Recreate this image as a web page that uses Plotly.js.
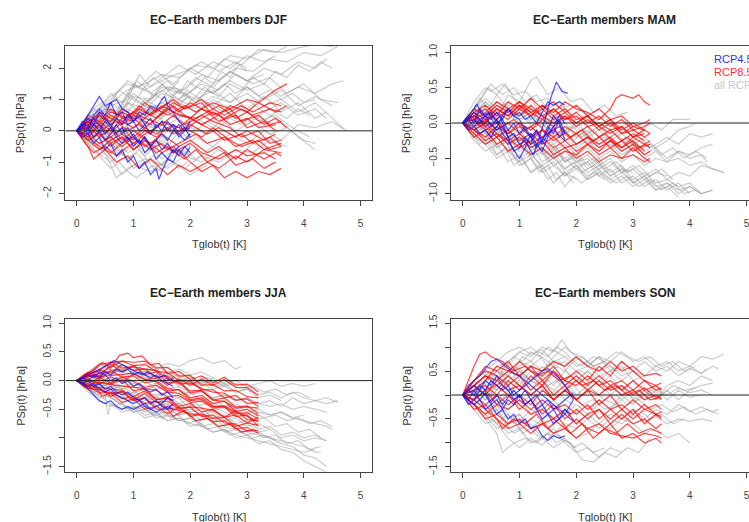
<!DOCTYPE html>
<html>
<head>
<meta charset="utf-8">
<script src="https://cdn.plot.ly/plotly-3.0.1.min.js"></script>
<style>
html,body{margin:0;padding:0;overflow:hidden;background:#fff;}
#chart{width:780px;height:522px;}
</style>
</head>
<body>
<div id="chart"></div>
<script>
// Each member: flattened pairs [Tglob, PSp, Tglob, PSp, ...]
const seasons = ["DJF", "MAM", "JJA", "SON"];
const xTicks = [0, 1, 2, 3, 4, 5];
const legendLabels = ["RCP4.5", "RCP8.5", "all RCPs"];

// ---------------- DJF ----------------
const djfAll = [
[0,0,.3,.4,.6,.9,.9,1.3,1.2,1.5,1.5,1.8,1.8,1.7,2.1,2.1,2.4,2,2.7,2.4,3,2.3,3.3,2.6,3.6,2.5,3.9,2.65,4.2,2.75,4.5,2.7,4.7,2.8],
[0,0,.25,.3,.5,.7,.8,.6,1,1.1,1.3,1,1.6,1.4,1.9,1.3,2.2,1.8,2.5,1.6,2.8,2,3.1,1.9,3.4,2.3,3.7,2.2,4,2.5,4.3,2.4,4.6,2.7],
[0,0,.3,.5,.6,.3,.9,.9,1.2,.7,1.5,1.2,1.8,1,2.1,1.4,2.4,1.2,2.7,1.6,3,1.3,3.3,1.5,3.6,1.1,3.9,1.4,4.2,1.2,4.5,1.5,4.7,1.6],
[0,0,.3,-.2,.6,.4,.9,.2,1.2,.8,1.5,.5,1.8,1,2.1,.7,2.4,1.1,2.7,.9,3,1.2,3.3,.8,3.6,1,3.9,.6,4.2,.9,4.5,.4,4.75,0],
[0,0,.2,.3,.5,.1,.8,.6,1.1,.3,1.4,.8,1.7,.5,2,.4,2.3,.9,2.6,.6,2.9,.8,3.2,.3,3.5,.5,3.8,.1,4.1,-.2],
[0,0,.3,.2,.6,-.3,.9,.1,1.2,-.2,1.5,.3,1.8,0,2.1,.4,2.4,.1,2.7,.5,3,.2,3.3,.6,3.6,.3,3.9,-.2,4.2,-.6],
[0,0,.3,-.4,.6,-.9,.8,-1.4,1,-1.1,1.3,-1.3,1.6,-.9,1.9,-1.2,2.2,-.8,2.5,-1,2.8,-.6,3.1,-.7,3.4,-.3,3.7,-.5],
[0,0,.25,-.3,.5,-.7,.7,-1.5,.9,-1.2,1.2,-.9,1.5,-1.1,1.8,-.6,2,-.8],
[0,0,.3,.6,.6,1,.9,1.6,1.1,1.4,1.4,1.9,1.7,1.5,2,2,2.3,1.7,2.6,2.3,2.9,2.1,3.2,2.6,3.5,2.5,3.7,2.7],
[0,0,.3,.4,.6,1.2,.8,.9,1,1.5,1.3,1.2,1.6,1.6,1.9,1.1,2.2,1.5,2.5,1.3,2.8,1.8,3.1,1.5,3.4,1.7,3.7,1.2,4,1.5,4.3,1,4.6,.9],
[0,0,.3,.1,.6,.5,.9,.2,1.2,.6,1.5,.9,1.8,.6,2.1,1.1,2.4,.8,2.7,1.2,3,.7,3.3,1.1,3.6,.6,3.9,.9,4.2,.4,4.4,.6],
[0,0,.3,-.5,.6,-.2,.9,-.7,1.2,-.4,1.5,-.9,1.8,-.5,2.1,-.9,2.4,-.5,2.7,-.8],
[0,0,.2,.4,.5,.8,.7,.5,1,1.2,1.2,.9,1.5,1.3,1.8,.9,2,1.1],
[0,0,.2,-.2,.5,.3,.8,-.1,1,.5,1.3,.1,1.6,.6,1.9,.2,2,.3],
[0,0,.3,.3,.6,.8,.9,1,1.1,1.8,1.3,1.4,1.6,1.7,1.9,1.9,2.2,2.2,2.5,1.9,2.8,2.2,3,2],
[0,0,.3,-.3,.6,-.6,.9,-.2,1.2,-.8,1.5,-.3,1.8,-.7,2.1,-.2,2.4,-.5,2.7,-.1,3,-.4,3.3,0,3.6,-.3,3.9,.2,4.2,.1,4.5,.3,4.7,.05],
[0,0,.3,.5,.6,.3,.9,1.1,1.2,.8,1.5,1.4,1.8,1.2,2.1,1.7,2.4,1.4,2.7,1.9,3,1.6,3.3,2,3.6,1.8,3.9,2.2,4.2,2,4.4,2.3],
[0,0,.3,.2,.6,-.4,.9,-.9,1.1,-.6,1.4,-1.3,1.7,-1,2,-1.4,2.3,-1.1],
[0,0,.3,.3,.6,.6,.9,.4,1.2,1,1.5,.7,1.8,1.3,2.1,1,2.4,1.3,2.7,.9,3,1.4,3.3,1,3.6,1.3,3.9,.8,4.2,1.1,4.5,.8],
[0,0,.3,-.1,.6,.3,.9,.7,1.2,.4,1.5,.9,1.8,1.3,2.1,.9,2.4,1.5,2.7,1.9,3,1.6,3.3,1.8],
[0,0,.3,.4,.5,.2,.8,.7,1,.4,1.3,.6,1.6,.2,1.9,.5,2.2,.2,2.5,.4,2.8,0,3.1,.3,3.4,-.1,3.7,.1,4,-.3,4.2,-.4],
[0,0,.3,-.6,.6,-1,.8,-.7,1,-1.2,1.3,-.9,1.6,-1.2,1.9,-.8,2.2,-1,2.5,-.6,2.8,-.9,3.1,-.4,3.4,-.6],
[0,0,.3,.7,.6,1.1,.9,1.5,1.2,1.3,1.5,1.7,1.8,2.1,2.1,1.8,2.4,2.2,2.7,2,3,2.4,3.3,2.2,3.5,2.4],
[0,0,.3,.1,.6,.6,.9,.3,1.2,.7,1.5,.4,1.8,.9,2.1,.6,2.4,1,2.7,.7,3,1,3.3,.6,3.6,.9,3.9,.5,4.2,.7,4.4,.4],
[0,0,.15,.2,.3,.1,.45,.5,.6,.4,.75,.8,.9,.6,1.05,1,1.2,.8,1.35,1.2,1.5,1,1.65,1.4,1.8,1.2,1.95,1.6,2.1,1.4,2.25,1.7,2.4,1.5,2.55,1.9,2.7,1.7,2.85,2.1,3,1.9],
[0,0,.15,-.2,.3,0,.45,-.4,.6,-.2,.75,-.6,.9,-.9,1.05,-.7,1.2,-1,1.35,-.8,1.5,-1.1,1.65,-.9,1.8,-1.2,1.95,-1],
[0,0,.15,.3,.3,.1,.45,.6,.6,.9,.75,.7,.9,1.2,1.05,1,1.2,1.4,1.35,1.1,1.5,1.5,1.65,1.2,1.8,1,1.95,1.3,2.1,1.1,2.25,1.4,2.4,1.2,2.6,1.5,2.8,1.2,3,1.4,3.2,1.1,3.4,1.3,3.6,1,3.8,1.2,4,.9,4.2,1],
[0,0,.15,.1,.3,-.2,.45,-.5,.6,-.3,.75,-.8,.9,-.6,1.05,-.4,1.2,-.7,1.35,-.5,1.5,-.2,1.65,-.4,1.8,0,1.95,-.2,2.1,.1,2.25,-.1],
[0,0,.15,.2,.3,.5,.45,.3,.6,.7,.75,.5,.9,.9,1.05,.7,1.2,.5,1.35,.8,1.5,.6,1.65,1,1.8,.8,1.95,1.1,2.1,.9,2.3,1.3,2.5,1.1,2.7,1.5,2.9,1.3,3.1,1.7,3.3,1.5,3.5,1.9,3.7,1.7,3.9,2.1,4.1,1.9,4.3,2.2,4.5,2],
[0,0,.15,-.1,.3,.2,.45,0,.6,-.3,.75,-.1,.9,.2,1.05,0,1.2,.3,1.35,.1,1.5,-.2,1.65,.1,1.8,-.1,1.95,.2,2.1,0,2.3,.3,2.5,.1,2.7,.4,2.9,.2,3.1,.5,3.3,.3,3.5,.6,3.7,.4,3.9,.7,4.1,.5],
[0,0,.15,-.3,.3,-.6,.45,-.9,.6,-1.2,.75,-1,.9,-1.3,1.05,-1.5,1.2,-1.3,1.35,-1.1,1.5,-1.3],
[0,0,.15,.4,.3,.7,.45,.5,.6,.9,.75,1.3,.9,1.1,1.05,1.6,1.2,1.4,1.35,1.7,1.5,1.5,1.65,1.3,1.8,1.6]
];
const djfRcp85 = [
[0,0,.2,.3,.4,.1,.6,.5,.8,.3,1,.6,1.2,.4,1.4,.7,1.6,.5,1.9,.8,2.1,.6,2.4,.9,2.7,.7,3,1,3.2,.9,3.5,1.3,3.7,1.5],
[0,0,.2,-.3,.4,-.1,.6,-.5,.8,-.2,1,-.6,1.2,-.3,1.5,-.7,1.7,-.5,2,-1,2.2,-1.3,2.4,-1.1,2.6,-1.5,2.8,-1.3,3,-1.5,3.2,-1.3,3.4,-1.4,3.6,-1.2],
[0,0,.2,.2,.4,-.2,.6,.1,.8,-.3,1,0,1.3,-.4,1.5,-.1,1.8,-.5,2,-.3,2.3,-.7,2.5,-.5,2.8,-.9,3,-.6,3.3,-.9,3.5,-.7,3.6,-.8],
[0,0,.2,.4,.4,.2,.6,.6,.9,.4,1.1,.8,1.3,.5,1.6,.9,1.8,.6,2,.9,2.3,.6,2.5,.8,2.8,.4,3,.6,3.3,.2,3.5,.4,3.7,.1],
[0,0,.2,-.5,.3,-.9,.5,-.6,.7,-1,.9,-.8,1.1,-1.2,1.3,-.9,1.6,-1.4,1.8,-1.1,2,-1.3,2.3,-1,2.5,-1.2,2.8,-.8,3,-1,3.3,-.6,3.6,-.7],
[0,0,.2,.1,.4,.5,.6,.3,.8,.7,1,.5,1.2,.9,1.4,.6,1.7,1,1.9,.7,2.2,.9,2.4,.5,2.7,.7,2.9,.3,3.2,.5,3.4,.2,3.6,.3],
[0,0,.2,-.2,.4,.2,.6,-.1,.8,.3,1,.1,1.2,.4,1.5,.2,1.7,.5,1.9,.2,2.2,.5,2.4,.3,2.7,.1,2.9,-.2,3.2,0,3.4,-.4,3.6,-.3],
[0,0,.2,.3,.4,-.1,.6,-.4,.8,-.2,1,-.6,1.2,-.3,1.4,-.7,1.6,-.5,1.9,-.9,2.1,-.6,2.3,-1,2.6,-.7,2.8,-1.1,3.1,-.9,3.3,-1.2,3.5,-1],
[0,0,.2,.2,.4,.6,.6,.4,.8,.2,1,.5,1.3,.2,1.5,.6,1.7,.9,1.9,.7,2.2,1,2.4,.7,2.6,.5,2.9,.8,3.1,.6,3.4,.9,3.6,.8],
[0,0,.2,-.1,.4,-.4,.6,-.2,.8,-.5,1,-.2,1.2,.1,1.4,-.1,1.7,.2,1.9,0,2.1,.3,2.4,0,2.6,-.3,2.9,-.1,3.1,-.4,3.4,-.2,3.6,-.5],
[0,0,.2,.3,.4,.5,.6,.2,.8,.6,1,.4,1.2,.1,1.4,.4,1.6,.7,1.8,.5,2.1,.4,2.3,.6,2.5,.3,2.8,.5,3,.1,3.3,.3,3.5,0],
[0,0,.2,-.3,.4,-.6,.6,-.3,.8,-.1,1,-.4,1.2,-.1,1.5,.2,1.7,-.1,1.9,.1,2.2,-.2,2.4,.1,2.7,-.3,2.9,-.5,3.2,-.3,3.4,-.6,3.6,-.5],
[0,0,.2,.1,.4,.3,.6,0,.8,.4,1.1,.7,1.3,.5,1.5,.8,1.7,.6,2,.4,2.2,.7,2.5,.5,2.7,.8,3,.6,3.2,.9,3.5,.6,3.7,.8],
[0,0,.2,-.2,.4,-.5,.6,-.7,.8,-.4,1,-.2,1.2,-.5,1.4,-.3,1.6,-.6,1.9,-.3,2.1,-.1,2.3,-.4,2.6,-.2,2.8,-.5,3.1,-.3,3.3,-.6,3.6,-.4],
[0,0,.2,.2,.3,-.2,.5,.1,.7,.3,.9,0,1.1,.2,1.3,-.1,1.5,.3,1.8,.1,2,.4,2.2,.2,2.5,.5,2.7,.2,3,.4,3.2,.1,3.5,.2],
[0,0,.15,-.4,.3,-.7,.5,-.5,.7,-.8,.9,-.5,1.1,-.3,1.3,-.6,1.5,-.4,1.7,-.7,2,-.4,2.2,-.7,2.5,-.9,2.8,-.6,3,-.8,3.3,-.7,3.5,-.9],
[0,0,.2,.5,.4,.3,.6,.7,.8,.4,1,.3,1.2,.6,1.4,.4,1.7,.8,1.9,.5,2.1,.3,2.4,.6,2.6,.4,2.9,.7,3.1,.5,3.4,.7,3.6,.6],
[0,0,.2,-.1,.4,.2,.6,-.2,.8,.1,1,-.3,1.2,0,1.4,-.2,1.6,.1,1.8,-.1,2,.2,2.3,-.1,2.5,.1,2.8,-.2,3,0,3.3,-.3,3.5,-.1]
];
const djfRcp45 = [
[0,0,.1,.2,.2,.5,.3,.8,.4,1.1,.5,.8,.6,.9,.7,.5,.8,.6,.9,.2,1,.3,1.1,0,1.2,.2,1.3,-.1,1.4,.2,1.5,0,1.6,.3,1.7,.1,1.8,-.2,1.9,0,2,.3],
[0,0,.1,-.2,.2,-.1,.3,-.4,.4,-.2,.5,-.6,.6,-.4,.7,-.8,.8,-.6,.9,-1,1,-.8,1.1,-1.2,1.2,-1,1.3,-1.4,1.4,-1.2,1.45,-1.55,1.5,-1.3,1.6,-.9,1.7,-1,1.8,-.6,1.9,-.8,2,-.5],
[0,0,.1,.1,.2,-.1,.3,.2,.4,0,.5,.3,.6,.1,.7,.4,.8,.2,.9,.5,1,.3,1.1,.6,1.2,.5,1.3,.8,1.4,.7,1.5,1,1.55,1.1,1.6,.8,1.7,.6,1.8,.3,1.9,.1,2,-.2],
[0,0,.1,.3,.2,.1,.3,.4,.4,.2,.5,-.1,.6,.1,.7,-.2,.8,-.4,.9,-.2,1,-.5,1.1,-.3,1.2,-.7,1.3,-.5,1.4,-.9,1.5,-.7,1.6,-.9,1.7,-.6,1.8,-.8,1.9,-.5,2,-.7],
[0,0,.1,.2,.2,0,.3,.5,.4,.7,.5,.5,.6,.9,.7,1,.8,.7,.9,.6,1,.3,1.1,.5,1.2,.2,1.3,.4,1.4,.1,1.5,.3,1.6,0,1.7,.2,1.8,-.1,1.9,-.3,2,-.1],
[0,0,.1,-.1,.2,.1,.3,-.2,.4,0,.5,-.3,.6,-.1,.7,.2,.8,-.1,.9,.1,1,-.2,1.1,-.4,1.2,-.2,1.3,-.5,1.4,-.3,1.5,-.1,1.6,-.3,1.7,0,1.8,.2,1.9,0,2,.1],
[0,0,.1,.1,.2,.4,.3,.2,.4,.6,.5,.4,.6,.2,.7,-.1,.8,.1,.9,-.3,1,-.1,1.1,-.4,1.2,-.2,1.3,-.5,1.4,-.3,1.5,-.6,1.6,-.4,1.7,-.7,1.8,-.5]
];

// ---------------- MAM ----------------
const mamAll = [
[0,0,.2,.2,.4,.45,.5,.55,.7,.4,.9,.5,1.1,.3,1.3,.4,1.5,.2,1.7,.3,1.9,.1,2.1,.2,2.3,0,2.5,.1,2.7,-.1,2.9,0,3.1,-.15,3.3,0,3.5,-.1,3.7,.05,4,.05],
[0,0,.2,.1,.4,.3,.6,.1,.8,.4,1,.3,1.2,.6,1.3,.65,1.5,.4,1.7,.5,1.9,.3,2.1,.35,2.3,.15,2.5,.25,2.7,.1,2.9,.15],
[0,0,.2,-.2,.4,-.1,.6,-.35,.8,-.25,1,-.5,1.2,-.4,1.4,-.65,1.6,-.55,1.8,-.75,2,-.6,2.2,-.8,2.4,-.7,2.6,-.85,2.8,-.75,3,-.9,3.2,-.8,3.4,-.95,3.6,-.85,3.8,-1,4,-.9,4.2,-1,4.4,-.95],
[0,0,.2,-.1,.4,.1,.6,-.15,.8,-.3,1,-.2,1.2,-.45,1.4,-.35,1.6,-.5,1.8,-.4,2,-.55,2.2,-.45,2.4,-.6,2.6,-.5,2.8,-.7,3,-.6,3.2,-.75,3.4,-.65,3.6,-.8,3.8,-.7,4,-.75,4.2,-.6,4.4,-.65,4.6,-.7],
[0,0,.2,.15,.4,.05,.6,.25,.8,.1,1,.2,1.2,0,1.4,.1,1.6,-.1,1.8,0,2,-.2,2.2,-.1,2.4,-.3,2.6,-.2,2.8,-.35,3,-.25,3.2,-.4,3.4,-.3,3.6,-.2,3.8,-.3,4,-.15,4.2,-.2,4.4,-.15],
[0,0,.2,-.25,.4,-.4,.6,-.3,.8,-.55,1,-.45,1.2,-.7,1.4,-.6,1.6,-.85,1.8,-.7,2,-.8],
[0,0,.2,.1,.4,-.1,.6,0,.8,-.2,1,-.1,1.2,-.3,1.4,-.2,1.6,-.4,1.8,-.3,2,-.45,2.2,-.35,2.4,-.5,2.6,-.4,2.8,-.55,3,-.45,3.2,-.6,3.4,-.5,3.6,-.55,3.8,-.4,4,-.5,4.2,-.45,4.3,-.55],
[0,0,.2,.2,.4,.35,.6,.2,.8,.3,1,.1,1.2,.2,1.4,0,1.6,.1,1.8,-.1,2,0,2.2,-.15,2.4,-.05,2.6,-.2,2.8,-.1],
[0,0,.2,-.15,.4,-.3,.6,-.2,.8,-.4,1,-.3,1.2,-.5,1.4,-.4,1.6,-.6,1.8,-.5,2,-.65,2.2,-.55,2.4,-.75,2.6,-.65,2.8,-.85,3,-.75,3.2,-.9,3.4,-.8,3.6,-.95,3.8,-.85,4,-1],
[0,0,.2,.3,.4,.5,.5,.45,.7,.55,.9,.4,1.1,.45,1.3,.3,1.5,.35,1.7,.2,1.9,.25],
[0,0,.2,-.05,.4,-.2,.6,-.1,.8,-.3,1,-.15,1.2,-.35,1.4,-.25,1.6,-.45,1.8,-.35,2,-.55,2.2,-.5,2.4,-.65,2.6,-.55,2.8,-.7,3,-.65,3.2,-.8,3.4,-.7,3.6,-.75],
[0,0,.2,.05,.4,-.15,.6,-.05,.8,-.25,1,-.35,1.2,-.25,1.4,-.45,1.6,-.35,1.8,-.55,2,-.45,2.2,-.65,2.4,-.55,2.6,-.75,2.8,-.65,3,-.85,3.2,-.75,3.4,-.95,3.6,-.9,3.8,-1.05],
[0,0,.2,.1,.4,.25,.6,.1,.8,.2,1,0,1.2,-.1,1.4,0,1.6,-.2,1.8,-.1,2,-.3,2.2,-.2,2.4,-.35,2.6,-.25,2.8,-.4,3,-.3,3.2,-.45,3.4,-.35,3.6,-.5,3.8,-.4,4,-.45,4.2,-.35,4.4,-.3],
[0,0,.2,-.1,.4,-.25,.6,-.45,.8,-.35,1,-.6,1.2,-.5,1.4,-.7,1.6,-.6,1.8,-.75,2,-.65,2.2,-.8,2.4,-.7],
[0,0,.2,.15,.4,.3,.6,.15,.8,.25,1,.05,1.2,.15,1.4,-.05,1.6,.05,1.8,-.15,2,-.05,2.2,-.2,2.4,-.1,2.6,-.25,2.8,-.15,3,-.3,3.2,-.2,3.4,-.35,3.6,-.25,3.8,-.1,4,-.05,4.1,0],
[0,0,.2,-.1,.4,0,.6,-.2,.8,-.1,1,-.3,1.2,-.2,1.4,-.4,1.6,-.3,1.8,-.5,2,-.4,2.2,-.6,2.4,-.5,2.6,-.7,2.8,-.6,3,-.8,3.2,-.7,3.4,-.85,3.6,-.8,3.8,-.9,4,-.85,4.2,-1,4.4,-.95],
[0,0,.2,.2,.4,.1,.6,.3,.8,.15,1,.25,1.2,.05,1.4,.15,1.6,-.05,1.8,.05],
[0,0,.2,-.2,.4,-.3,.6,-.5,.8,-.4,1,-.55,1.2,-.45,1.4,-.6,1.6,-.5,1.8,-.65,2,-.55,2.2,-.7,2.4,-.6,2.6,-.75,2.8,-.65,3,-.7],
[0,0,.2,.05,.4,.2,.6,.05,.8,-.1,1,0,1.2,-.2,1.4,-.1,1.6,-.3,1.8,-.2,2,-.35,2.2,-.25,2.4,-.4,2.6,-.3,2.8,-.45,3,-.35,3.2,-.5,3.4,-.4,3.6,-.55,3.8,-.5,4,-.6,4.2,-.55,4.4,-.65,4.6,-.7],
[0,0,.2,-.15,.4,-.05,.6,-.3,.8,-.2,1,-.4,1.2,-.3,1.4,-.55,1.6,-.45,1.8,-.7,2,-.6,2.2,-.75,2.4,-.65,2.6,-.8,2.8,-.7,3,-.85,3.2,-.75,3.4,-.9,3.6,-.85,3.8,-.95,4,-.9,4.2,-1],
[0,0,.15,.1,.3,.3,.45,.5,.6,.4,.75,.55,.9,.35,1.05,.2,1.2,.35,1.35,.15,1.5,0,1.65,.1,1.8,-.1,1.95,-.05],
[0,0,.15,-.1,.3,-.05,.45,-.2,.6,-.35,.75,-.25,.9,-.45,1.05,-.6,1.2,-.5,1.35,-.7,1.5,-.6,1.65,-.8,1.8,-.7,1.95,-.85],
[0,0,.15,.05,.3,-.1,.45,.05,.6,-.15,.75,-.05,.9,-.25,1.05,-.15,1.2,-.35,1.35,-.3,1.5,-.45,1.65,-.35,1.8,-.55,1.95,-.45,2.1,-.6,2.3,-.5,2.5,-.65,2.7,-.55,2.9,-.7,3.1,-.6,3.3,-.75,3.5,-.65,3.7,-.8],
[0,0,.15,.15,.3,.35,.45,.2,.6,.4,.75,.25,.9,.1,1.05,.25,1.2,.05,1.35,.15,1.5,-.05,1.65,.05,1.8,-.15,1.95,-.05,2.1,-.2,2.3,-.1,2.5,-.25,2.7,-.15,2.9,-.3,3.1,-.2,3.3,-.35],
[0,0,.15,-.15,.3,-.3,.45,-.2,.6,-.45,.75,-.35,.9,-.6,1.05,-.5,1.2,-.7,1.35,-.6,1.5,-.8,1.65,-.7,1.8,-.9,1.95,-.75,2.1,-.85,2.3,-.7,2.5,-.8],
[0,0,.15,.05,.3,.2,.45,.1,.6,.3,.75,.2,.9,.05,1.05,.15,1.2,-.05,1.35,.05,1.5,-.1,1.65,-.2,1.8,-.1,1.95,-.25,2.1,-.15,2.3,-.3,2.5,-.2,2.7,-.35,2.9,-.25,3.1,-.4,3.3,-.3,3.5,-.45,3.7,-.35,3.9,-.5,4.1,-.4,4.3,-.5],
[0,0,.15,-.05,.3,.1,.45,-.05,.6,-.2,.75,-.1,.9,-.3,1.05,-.2,1.2,-.4,1.35,-.3,1.5,-.5,1.65,-.4,1.8,-.55,1.95,-.5],
[0,0,.15,.1,.3,0,.45,-.15,.6,-.05,.75,-.25,.9,-.15,1.05,-.35,1.2,-.45,1.35,-.35,1.5,-.55,1.65,-.45,1.8,-.65,1.95,-.55,2.1,-.7,2.3,-.6,2.5,-.75,2.7,-.85,2.9,-.75,3.1,-.9,3.3,-.8,3.5,-.95,3.7,-.85,3.9,-1,4.1,-.95]
];
const mamRcp85 = [
[0,0,.2,.1,.4,0,.6,.15,.8,.05,1,.2,1.2,.1,1.4,.25,1.6,.15,1.8,.3,2,.2,2.2,.15,2.4,.05,2.6,.2,2.7,.35,2.8,.4,3,.35,3.1,.4,3.2,.3,3.3,.25],
[0,0,.15,.1,.3,-.05,.5,.1,.7,-.05,.9,.05,1.1,-.1,1.3,0,1.5,-.15,1.7,-.05,1.9,-.2,2.1,-.1,2.3,-.25,2.5,-.15,2.7,-.3,2.9,-.2,3.1,-.35,3.3,-.3],
[0,0,.2,-.1,.4,-.25,.6,-.15,.8,-.3,1,-.2,1.2,-.35,1.4,-.25,1.6,-.45,1.8,-.35,2,-.5,2.2,-.4,2.4,-.55,2.6,-.45,2.8,-.5,3,-.35,3.2,-.5,3.3,-.55],
[0,0,.2,.15,.4,.25,.6,.1,.8,.3,1,.2,1.2,.35,1.4,.2,1.6,.3,1.8,.15,2,.25,2.2,.1,2.4,.2,2.6,.05,2.8,.1,3,-.05,3.2,0,3.3,.05],
[0,0,.2,-.05,.4,.05,.6,-.1,.8,0,1,-.15,1.2,-.05,1.4,-.2,1.6,-.1,1.8,-.25,2,-.15,2.2,-.3,2.4,-.2,2.6,-.35,2.8,-.25,3,-.4,3.2,-.3,3.3,-.35],
[0,0,.2,.1,.4,.2,.6,.05,.8,.2,1,.1,1.2,.25,1.4,.1,1.6,0,1.8,.1,2,-.05,2.2,.05,2.4,-.1,2.6,0,2.8,-.15,3,-.05,3.2,-.1,3.3,-.15],
[0,0,.2,-.15,.4,-.3,.6,-.2,.8,-.4,1,-.3,1.2,-.45,1.4,-.35,1.6,-.5,1.8,-.4,2,-.45,2.2,-.3,2.4,-.4,2.6,-.25,2.8,-.35,3,-.2,3.2,-.3,3.3,-.25],
[0,0,.2,.05,.4,.15,.6,.3,.8,.2,1,.3,1.2,.15,1.4,.25,1.6,.1,1.8,.2,2,.05,2.2,.1,2.4,-.05,2.6,.05,2.8,-.1,3,0,3.2,-.1],
[0,0,.2,-.1,.4,0,.6,-.15,.8,-.25,1,-.15,1.2,-.3,1.4,-.2,1.6,-.35,1.8,-.25,2,-.4,2.2,-.3,2.4,-.45,2.6,-.35,2.8,-.5,3,-.45,3.2,-.55,3.3,-.5],
[0,0,.2,.1,.4,0,.6,.2,.8,.1,1,.25,1.2,.15,1.4,.05,1.6,.2,1.8,.05,2,.15,2.2,0,2.4,.1,2.6,-.05,2.8,.05,3,-.1,3.2,-.05,3.3,0],
[0,0,.2,-.2,.4,-.1,.6,-.3,.8,-.2,1,-.35,1.2,-.25,1.4,-.1,1.6,-.2,1.8,-.05,2,-.15,2.2,-.05,2.4,-.2,2.6,-.1,2.8,-.25,3,-.15,3.2,-.25],
[0,0,.2,.05,.4,-.1,.6,0,.8,-.15,1,-.05,1.2,-.2,1.4,-.1,1.6,-.25,1.8,-.15,2,-.3,2.2,-.2,2.4,-.35,2.6,-.25,2.8,-.4,3,-.3,3.2,-.45,3.3,-.4],
[0,0,.2,.15,.4,.05,.6,.2,.8,.1,1,.25,1.2,.1,1.4,.2,1.6,.05,1.8,.15,2,0,2.2,.1,2.4,-.05,2.6,.05,2.8,-.15,3,-.1,3.2,-.2,3.3,-.15],
[0,0,.2,-.1,.4,-.2,.6,-.05,.8,-.15,1,0,1.2,-.1,1.4,.05,1.6,-.05,1.8,.1,2,0,2.2,.1,2.4,-.05,2.6,-.15,2.8,-.05,3,-.2,3.2,-.1],
[0,0,.2,.1,.4,-.05,.6,-.2,.8,-.1,1,-.25,1.2,-.15,1.4,-.3,1.6,-.2,1.8,-.35,2,-.3,2.2,-.2,2.4,-.3,2.6,-.2,2.8,-.35,3,-.25,3.2,-.4],
[0,0,.2,.2,.4,.1,.6,.25,.8,.15,1,.3,1.2,.2,1.4,.1,1.6,.2,1.8,.05,2,.1,2.2,-.05,2.4,0,2.6,-.1,2.8,-.05,3,-.2,3.2,-.15]
];
const mamRcp45 = [
[0,0,.1,.05,.2,-.05,.3,.05,.4,-.05,.5,0,.6,-.1,.7,-.05,.8,-.2,.9,-.15,1,-.3,1.1,-.25,1.2,-.4,1.25,-.45,1.35,-.2,1.45,.05,1.55,.35,1.65,.58,1.75,.45,1.85,.42],
[0,0,.1,.1,.2,.2,.25,.27,.35,.1,.45,.15,.55,0,.65,.1,.75,-.1,.85,-.3,.95,-.45,1,-.5,1.1,-.35,1.2,-.15,1.3,-.3,1.4,-.4,1.5,-.2,1.6,-.05,1.7,-.2,1.8,-.1],
[0,0,.1,-.05,.2,.05,.3,0,.4,.1,.5,.05,.6,.15,.7,.05,.8,.2,.9,.1,1,.15,1.1,.05,1.2,.1,1.3,0,1.4,.15,1.5,.3,1.6,.25,1.7,.3,1.8,.25],
[0,0,.1,.05,.2,.15,.3,.05,.4,.1,.5,-.05,.6,.05,.7,-.15,.8,-.25,.9,-.4,1,-.35,1.1,-.2,1.2,-.3,1.3,-.1,1.4,-.25,1.5,-.05,1.6,-.15,1.7,.05,1.8,-.15],
[0,0,.1,-.1,.2,-.05,.3,-.15,.4,-.1,.5,-.2,.6,-.05,.7,.1,.8,.2,.9,.1,1,.05,1.1,-.1,1.2,-.2,1.3,-.35,1.4,-.25,1.5,-.1,1.6,.1,1.7,0,1.8,-.25],
[0,0,.1,.1,.2,0,.3,.2,.4,.1,.5,.15,.6,0,.7,.05,.8,-.1,.9,0,1,-.15,1.1,-.05,1.2,-.2,1.3,-.1,1.4,-.3,1.5,-.15,1.6,-.05,1.7,.1,1.8,0]
];

// ---------------- JJA ----------------
const jjaAll = [
[0,0,.2,.1,.4,.2,.6,.1,.8,.25,1,.15,1.2,.3,1.4,.2,1.6,.3,1.8,.25,2,.35,2.2,.4,2.4,.3,2.6,.35,2.8,.2,2.9,.25],
[0,0,.2,-.1,.4,.05,.6,-.05,.8,.1,1,0,1.2,.1,1.4,-.05,1.6,.05,1.8,-.1,2,0,2.2,-.1,2.4,.05,2.6,-.05,2.8,0,3,-.1,3.2,-.05,3.4,0,3.6,-.1,3.8,-.05,4,-.1,4.2,-.05],
[0,0,.2,-.15,.4,-.3,.5,-.25,.55,-.6,.6,-.4,.8,-.5,1,-.45,1.2,-.6,1.4,-.55,1.6,-.7,1.8,-.65,2,-.8,2.2,-.75,2.4,-.9,2.6,-.85,2.8,-1,3,-.95,3.2,-1.1,3.4,-1.05,3.6,-1.2,3.8,-1.25,4,-1.4,4.2,-1.5,4.4,-1.6],
[0,0,.2,-.05,.4,-.15,.6,-.1,.8,-.25,1,-.2,1.2,-.35,1.4,-.3,1.6,-.45,1.8,-.4,2,-.55,2.2,-.5,2.4,-.65,2.6,-.6,2.8,-.75,3,-.7,3.2,-.85,3.4,-.8,3.6,-.95,3.8,-.9,4,-1,4.2,-.95,4.4,-1.05],
[0,0,.2,.05,.4,-.05,.6,0,.8,-.1,1,-.05,1.2,-.15,1.4,-.1,1.6,-.2,1.8,-.15,2,-.25,2.2,-.2,2.4,-.3,2.6,-.25,2.8,-.35,3,-.3,3.2,-.4,3.4,-.35,3.6,-.45,3.8,-.3,4,-.4,4.2,-.35,4.4,-.4,4.6,-.35],
[0,0,.2,-.1,.4,-.2,.6,-.3,.8,-.4,1,-.55,1.2,-.5,1.4,-.65,1.6,-.6,1.8,-.7,2,-.65,2.2,-.8,2.4,-.75,2.6,-.9,2.8,-.85,3,-.95,3.2,-.9,3.4,-1,3.6,-1.05,3.8,-1.1,4,-1.15,4.2,-1.25,4.3,-1.25],
[0,0,.2,.1,.4,0,.6,.05,.8,-.05,1,0,1.2,-.1,1.4,-.05,1.6,-.15,1.8,-.1,2,-.2,2.2,-.15,2.4,-.3,2.6,-.25,2.8,-.35,3,-.3,3.2,-.4,3.4,-.45,3.6,-.4,3.8,-.5,4,-.45,4.2,-.5,4.4,-.55],
[0,0,.2,-.2,.4,-.35,.6,-.45,.8,-.4,1,-.55,1.2,-.5,1.4,-.6,1.6,-.55,1.8,-.7,2,-.65,2.2,-.75],
[0,0,.2,.15,.4,.3,.6,.2,.8,.15,1,.25,1.2,.1,1.4,.2,1.6,.05,1.8,.1,2,-.05,2.2,0,2.4,-.1,2.6,-.05,2.8,-.2,3,-.15,3.2,-.3,3.4,-.25,3.6,-.35],
[0,0,.2,-.1,.4,-.05,.6,-.2,.8,-.3,1,-.25,1.2,-.4,1.4,-.35,1.6,-.5,1.8,-.45,2,-.6,2.2,-.55,2.4,-.7,2.6,-.65,2.8,-.8,3,-.75,3.2,-.9,3.4,-.85,3.6,-1,3.8,-.95,4,-1.05,4.2,-1,4.4,-1.05],
[0,0,.2,0,.4,.1,.6,-.05,.8,.05,1,-.1,1.2,0,1.4,-.15,1.6,-.1,1.8,-.25,2,-.2,2.2,-.35,2.4,-.3,2.6,-.45,2.8,-.4,3,-.55,3.2,-.5,3.4,-.6,3.6,-.55,3.8,-.65,4,-.6],
[0,0,.2,-.15,.4,-.25,.6,-.4,.8,-.55,1,-.5,1.2,-.65,1.4,-.6,1.6,-.7,1.8,-.65,2,-.75,2.2,-.8,2.4,-.9,2.6,-.85,2.8,-.95,3,-1,3.2,-1.05,3.4,-1.1,3.6,-1.15,3.8,-1.2,4,-1.25,4.2,-1.2],
[0,0,.2,.1,.4,.05,.6,.15,.8,.05,1,.1,1.2,0,1.4,.05,1.6,-.05,1.8,0,2,-.1,2.2,-.05,2.4,-.15,2.6,-.1,2.8,-.2,3,-.15,3.2,-.25,3.4,-.2,3.6,-.3,3.8,-.2,4,-.3,4.2,-.35,4.4,-.3,4.6,-.38],
[0,0,.2,-.05,.4,-.2,.6,-.15,.8,-.3,1,-.35,1.2,-.3,1.4,-.45,1.6,-.4,1.8,-.55,2,-.5,2.2,-.6,2.4,-.55,2.6,-.7,2.8,-.65,3,-.8,3.2,-.75,3.4,-.85],
[0,0,.2,.05,.4,.15,.6,.1,.8,.2,1,.25,1.2,.2,1.4,.25,1.6,.15,1.8,.2,2,.1,2.2,.15,2.4,.05],
[0,0,.2,-.1,.4,-.15,.6,-.25,.8,-.2,1,-.35,1.2,-.3,1.4,-.45,1.6,-.5,1.8,-.6,2,-.55,2.2,-.7,2.4,-.65,2.6,-.8,2.8,-.85,3,-.9,3.2,-.95,3.4,-1,3.6,-1.1,3.8,-1.15,4,-1.3,4.2,-1.35,4.4,-1.5],
[0,0,.2,0,.4,-.1,.6,-.05,.8,-.15,1,-.1,1.2,-.2,1.4,-.25,1.6,-.2,1.8,-.3,2,-.35,2.2,-.3,2.4,-.4,2.6,-.45,2.8,-.5,3,-.45,3.2,-.55,3.4,-.6,3.6,-.55,3.8,-.65,4,-.7,4.2,-.75,4.4,-.8,4.5,-.85],
[0,0,.2,.1,.4,.25,.6,.3,.8,.2,1,.1,1.2,.15,1.4,.05,1.6,.1,1.8,0,2,.05,2.2,-.05,2.4,0,2.6,-.1,2.8,-.05,3,-.1],
[0,0,.15,-.05,.3,-.15,.45,-.1,.6,-.25,.75,-.2,.9,-.35,1.05,-.3,1.2,-.45,1.35,-.4,1.5,-.55,1.65,-.5,1.8,-.6,1.95,-.55,2.1,-.7,2.3,-.65,2.5,-.8,2.7,-.75,2.9,-.9,3.1,-.85,3.3,-1,3.5,-.95,3.7,-1.1,3.9,-1.05,4.1,-1.2,4.3,-1.15],
[0,0,.15,.05,.3,0,.45,-.1,.6,-.05,.75,-.2,.9,-.15,1.05,-.3,1.2,-.25,1.35,-.4,1.5,-.35,1.65,-.45,1.8,-.4,1.95,-.5],
[0,0,.15,.1,.3,.05,.45,.15,.6,.1,.75,.2,.9,.1,1.05,.15,1.2,.05,1.35,.1,1.5,0,1.65,.05,1.8,-.05,1.95,.05,2.1,-.05,2.3,0,2.5,-.1,2.7,-.05,2.9,-.15,3.1,-.1,3.3,-.2,3.5,-.15,3.7,-.25,3.9,-.2,4.1,-.3],
[0,0,.15,-.1,.3,-.2,.45,-.15,.6,-.3,.75,-.4,.9,-.35,1.05,-.5,1.2,-.45,1.35,-.6,1.5,-.55,1.65,-.65,1.8,-.6,1.95,-.75,2.1,-.7,2.3,-.85,2.5,-.8,2.7,-.95,2.9,-.9,3.1,-1,3.3,-.95,3.5,-1.05],
[0,0,.15,0,.3,-.1,.45,-.05,.6,-.15,.75,-.1,.9,-.25,1.05,-.2,1.2,-.3,1.35,-.25,1.5,-.35,1.65,-.3,1.8,-.4,1.95,-.35,2.1,-.45,2.3,-.4,2.5,-.5,2.7,-.45,2.9,-.6,3.1,-.55,3.3,-.65,3.5,-.6,3.7,-.7,3.9,-.65,4.1,-.75,4.3,-.7,4.5,-.8],
[0,0,.15,.05,.3,.15,.45,.1,.6,.2,.75,.15,.9,.25,1.05,.2,1.2,.15,1.35,.2,1.5,.1,1.65,.15,1.8,.05,1.95,.1,2.1,0,2.3,.05,2.5,-.05,2.7,0],
[0,0,.15,-.05,.3,-.2,.45,-.3,.6,-.25,.75,-.4,.9,-.5,1.05,-.45,1.2,-.55,1.35,-.5,1.5,-.65,1.65,-.6,1.8,-.7],
[0,0,.15,-.05,.3,0,.45,-.1,.6,-.05,.75,-.15,.9,-.1,1.05,-.2,1.2,-.15,1.35,-.3,1.5,-.25,1.65,-.35,1.8,-.3,1.95,-.45,2.1,-.4,2.3,-.55,2.5,-.5,2.7,-.6,2.9,-.55,3.1,-.7,3.3,-.65,3.5,-.8,3.7,-.75,3.9,-.9,4.1,-.85,4.3,-1]
];
const jjaRcp85 = [
[0,0,.15,.12,.3,.18,.45,.32,.6,.22,.75,.44,.9,.48,1,.4,1.15,.43,1.3,.28,1.45,.3,1.6,.12,1.8,.16,2,.02,2.2,.08,2.4,-.04,2.6,.06,2.8,-.08,3,-.06,3.2,-.2],
[0,0,.15,-.12,.3,-.08,.45,-.27,.6,-.22,.8,-.38,1,-.32,1.2,-.5,1.4,-.44,1.6,-.58,1.8,-.46,2,-.63,2.2,-.58,2.4,-.66,2.6,-.64,2.8,-.8,3,-.74,3.2,-.78],
[0,0,.2,.14,.4,.08,.6,.28,.8,.16,1,.27,1.2,.1,1.4,.15,1.6,-.04,1.8,-.02,2,-.22,2.2,-.18,2.4,-.34,2.6,-.3,2.8,-.46,3,-.44,3.2,-.58],
[0,0,.2,-.08,.4,-.02,.6,-.06,.8,.02,1,-.18,1.2,-.14,1.4,-.33,1.6,-.29,1.8,-.45,2,-.4,2.2,-.55,2.4,-.5,2.6,-.64,2.8,-.6,3,-.74,3.2,-.64],
[0,0,.2,.08,.4,.12,.6,.24,.8,.34,1,.26,1.2,.28,1.4,.16,1.6,.14,1.8,0,2,-.01,2.2,-.16,2.4,-.16,2.6,-.3,2.8,-.26,3,-.4,3.2,-.38],
[0,0,.2,-.14,.4,-.16,.6,-.22,.8,-.2,1,-.35,1.2,-.3,1.4,-.5,1.6,-.5,1.7,-.62,1.9,-.52,2.1,-.7,2.3,-.66,2.5,-.8,2.7,-.76,2.9,-.9,3.1,-.86,3.2,-.88],
[0,0,.2,.12,.4,.02,.6,.18,.8,.06,1,.08,1.2,-.04,1.4,0,1.6,-.14,1.8,-.16,2,-.3,2.2,-.26,2.4,-.4,2.6,-.36,2.8,-.54,3,-.5,3.2,-.62],
[0,0,.2,.03,.4,-.07,.6,.07,.8,-.03,1,.12,1.2,.02,1.4,.04,1.6,-.08,1.8,.03,2,-.08,2.2,.03,2.4,-.08,2.6,.02,2.8,-.12,3,-.12,3.2,-.26],
[0,0,.2,-.08,.4,-.12,.6,-.28,.8,-.18,1,-.34,1.2,-.22,1.4,-.38,1.6,-.36,1.8,-.5,2,-.46,2.2,-.48,2.4,-.52,2.6,-.64,2.8,-.52,3,-.68,3.2,-.7],
[0,0,.2,.13,.4,.17,.6,.33,.8,.22,1,.24,1.2,.2,1.4,.18,1.6,.02,1.8,-.02,2,-.18,2.2,-.17,2.4,-.34,2.6,-.36,2.8,-.48,3,-.46,3.2,-.48],
[0,0,.2,-.02,.4,-.03,.6,-.07,.8,-.09,1,-.12,1.2,-.14,1.4,-.17,1.6,-.28,1.8,-.26,2,-.38,2.2,-.36,2.4,-.48,2.6,-.46,2.8,-.63,3,-.6,3.2,-.8],
[0,0,.2,.08,.4,.07,.6,.09,.8,.12,1,.13,1.2,.02,1.4,-.02,1.6,-.18,1.8,-.16,2,-.33,2.2,-.3,2.4,-.44,2.6,-.46,2.8,-.58,3,-.56,3.2,-.67],
[0,0,.2,-.13,.4,-.12,.6,-.14,.8,-.17,1,-.28,1.2,-.18,1.4,-.33,1.6,-.31,1.8,-.48,2,-.46,2.2,-.63,2.4,-.6,2.6,-.74,2.8,-.76,3,-.88,3.1,-.88],
[0,0,.2,.12,.4,.28,.6,.32,.8,.34,1,.32,1.2,.34,1.4,.22,1.6,.23,1.8,.08,2,.09,2.2,-.08,2.4,-.07,2.6,-.18,2.8,-.17,3,-.28,3.2,-.3],
[0,0,.2,-.05,.4,.05,.6,-.04,.8,.06,1,-.02,1.2,-.12,1.4,-.08,1.6,-.2,1.8,-.22,2,-.35,2.2,-.33,2.4,-.46,2.6,-.44,2.8,-.55,3,-.62,3.2,-.72],
[0,0,.2,.06,.4,.18,.6,.14,.8,.28,1,.18,1.2,.2,1.4,.06,1.6,.08,1.8,-.06,2,-.04,2.2,-.14,2.4,-.2,2.6,-.22,2.8,-.34,3,-.32,3.2,-.45],
[0,0,.2,-.1,.4,-.22,.6,-.2,.8,-.32,1,-.28,1.2,-.4,1.4,-.36,1.6,-.48,1.8,-.52,2,-.58,2.2,-.6,2.4,-.72,2.6,-.7,2.8,-.84,3,-.82,3.2,-.92]
];
const jjaRcp45 = [
[0,0,.1,.05,.2,.1,.3,.15,.4,.2,.5,.25,.6,.3,.65,.35,.75,.3,.85,.25,.95,.2,1.05,.15,1.15,.1,1.25,.15,1.35,.1,1.45,.05,1.55,.1,1.65,0,1.7,.05],
[0,0,.1,-.05,.2,-.15,.3,-.25,.4,-.35,.5,-.4,.6,-.35,.7,-.45,.8,-.5,.9,-.45,1,-.5,1.1,-.45,1.2,-.4,1.3,-.5,1.4,-.45,1.5,-.4,1.6,-.3,1.7,-.35],
[0,0,.1,.05,.2,0,.3,.1,.4,.05,.5,.15,.6,.1,.7,.2,.8,.15,.9,.2,1,.1,1.1,.15,1.2,.1,1.3,.05,1.4,.1,1.5,0,1.6,-.05,1.7,-.1],
[0,0,.1,-.05,.2,0,.3,-.1,.4,-.05,.5,-.15,.6,-.1,.7,-.2,.8,-.25,.9,-.2,1,-.3,1.1,-.35,1.2,-.3,1.3,-.4,1.4,-.35,1.5,-.45,1.6,-.5,1.7,-.4],
[0,0,.1,.05,.2,.1,.3,.05,.4,.15,.5,.1,.6,0,.7,.05,.8,-.05,.9,0,1,-.1,1.1,-.05,1.2,-.15,1.3,-.2,1.4,-.15,1.5,-.25,1.6,-.2,1.7,-.3],
[0,0,.1,-.05,.2,-.1,.3,-.05,.4,-.15,.5,-.2,.6,-.15,.7,-.25,.8,-.3,.9,-.35,1,-.4,1.1,-.35,1.2,-.45,1.3,-.5,1.4,-.55,1.5,-.5,1.6,-.45,1.7,-.5]
];

// ---------------- SON ----------------
const sonAll = [
[0,0,.2,.2,.4,.4,.6,.3,.8,.6,1,.9,1.2,.8,1.4,1,1.6,.9,1.75,1.15,1.9,.9,2.1,.8,2.3,.6,2.5,.7,2.7,.5,2.9,.6,3.1,.4],
[0,0,.2,.1,.4,.3,.6,.5,.8,.4,1,.7,1.2,.6,1.4,.8,1.6,.6,1.8,.7,2,.5,2.2,.6,2.4,.4,2.6,.5,2.8,.3,3,.5,3.2,.4,3.4,.6,3.6,.5,3.8,.7,4,.6,4.2,.8,4.4,.75,4.6,.85],
[0,0,.2,-.2,.4,-.5,.6,-.8,.7,-1.2,.9,-1,1.1,-.9,1.3,-1,1.5,-.8,1.7,-.9,1.9,-1,2.1,-1.35,2.3,-1.4,2.5,-1.2,2.7,-1.3,2.9,-1.1,3.1,-1.2,3.3,-.9],
[0,0,.2,.1,.4,-.1,.6,.2,.8,0,1,.3,1.2,.1,1.4,.4,1.6,.2,1.8,.5,2,.3,2.2,.5,2.4,.2,2.6,.4,2.8,.1,3,.3,3.2,0,3.4,.2,3.6,-.1,3.8,.1,4,-.05,4.2,0],
[0,0,.2,-.1,.4,-.3,.6,-.2,.8,-.5,1,-.4,1.2,-.7,1.4,-.6,1.6,-.8,1.8,-.7,2,-.9,2.2,-.8,2.4,-.6,2.6,-.7,2.8,-.5,3,-.6,3.2,-.8,3.4,-.7,3.6,-.9,3.8,-.8,4,-1],
[0,0,.2,.3,.4,.5,.6,.7,.8,.9,1,1,1.2,.85,1.4,.95,1.6,.7,1.8,.8,2,.6,2.2,.7,2.4,.5,2.6,.6,2.8,.4,3,.5],
[0,0,.2,0,.4,.2,.6,-.1,.8,.1,1,-.2,1.2,0,1.4,-.3,1.6,-.1,1.8,-.4,2,-.2,2.2,-.4,2.4,-.1,2.6,-.3,2.8,0,3,-.2,3.2,.1,3.4,-.1,3.6,.1,3.8,-.1,4,.1,4.2,.2,4.4,.25],
[0,0,.2,-.3,.4,-.6,.6,-.5,.8,-.8,1,-.7,1.2,-1,1.4,-.9,1.6,-1.1,1.8,-.95,2,-1.1],
[0,0,.2,.2,.4,0,.6,.3,.8,.5,1,.4,1.2,.6,1.4,.5,1.6,.7,1.8,.6,2,.8,2.2,.6,2.4,.8,2.6,.7,2.8,.9,3,.7,3.2,.8,3.4,.6,3.6,.7,3.8,.5,4,.6,4.2,.45,4.3,.55],
[0,0,.2,-.1,.4,.1,.6,-.1,.8,-.3,1,-.1,1.2,-.4,1.4,-.2,1.6,-.5,1.8,-.3,2,-.6,2.2,-.4,2.4,-.6,2.6,-.4,2.8,-.5,3,-.3,3.2,-.5,3.4,-.3,3.6,-.4,3.8,-.2,4,-.35,4.2,-.25,4.4,-.35,4.5,-.3],
[0,0,.2,.2,.4,.4,.6,.6,.8,.7,1,.9,1.2,1,1.3,.9,1.5,.6,1.7,.7,1.9,.4,2.1,.5,2.3,.3],
[0,0,.2,-.2,.4,0,.6,-.3,.8,-.6,1,-.4,1.2,-.7,1.4,-.5,1.6,-.8,1.8,-.6,2,-.7,2.2,-.5,2.4,-.7,2.6,-.5,2.8,-.6,3,-.4,3.2,-.55,3.4,-.45,3.6,-.6,3.8,-.5,4,-.55,4.2,-.5,4.4,-.55],
[0,0,.2,.1,.4,.3,.6,.1,.8,.4,1,.2,1.2,.5,1.4,.3,1.6,.1,1.8,.3,2,0,2.2,.2,2.4,0,2.6,.2,2.8,0,3,.1,3.2,-.1,3.4,.1,3.6,0,3.8,.15,4,.05,4.2,.1,4.4,0],
[0,0,.2,-.1,.4,-.3,.6,-.6,.8,-.4,1,-.7,1.2,-.6,1.4,-.9,1.6,-.7,1.8,-1,2,-1.2,2.2,-1.1,2.4,-1.3,2.6,-1.1,2.8,-1.2],
[0,0,.2,.3,.4,.1,.6,.4,.8,.2,1,.5,1.2,.3,1.4,.6,1.6,.4,1.8,.2,2,.4,2.2,.1,2.4,.3,2.6,0,2.8,.2,3,-.1,3.2,.1,3.4,-.1,3.6,.2,3.8,.3,4,.2,4.2,.4,4.4,.3],
[0,0,.2,.2,.4,-.1,.6,.1,.8,.4,1,.6,1.2,.7,1.4,.5,1.6,.8,1.8,1,2,.8,2.2,.6,2.4,.8,2.6,.5,2.8,.6,3,.3,3.2,.4],
[0,0,.2,-.2,.4,-.4,.6,-.6,.8,-.9,1,-1.1,1.2,-.9,1.4,-1.05,1.6,-.8,1.8,-.9],
[0,0,.2,.1,.4,.3,.6,.5,.8,.3,1,.5,1.2,.3,1.4,.2,1.6,.4,1.8,.2,2,.3,2.2,.5,2.4,.3,2.6,.5,2.8,.7,3,.5,3.2,.7,3.4,.5,3.6,.6,3.8,.4,4,.55,4.2,.45,4.4,.6,4.5,.55],
[0,0,.15,.2,.3,.1,.45,.4,.6,.3,.75,.6,.9,.5,1.05,.8,1.2,.7,1.35,.9,1.5,.8,1.65,1,1.8,.9,1.95,.7,2.1,.8,2.3,.6,2.5,.7],
[0,0,.15,-.1,.3,-.3,.45,-.2,.6,-.4,.75,-.3,.9,-.6,1.05,-.5,1.2,-.3,1.35,-.4,1.5,-.2,1.65,-.3,1.8,-.1,1.95,-.2],
[0,0,.15,.1,.3,.3,.45,.2,.6,.5,.75,.4,.9,.6,1.05,.5,1.2,.3,1.35,.4,1.5,.2,1.65,.3,1.8,.1,1.95,.2,2.1,0,2.3,.1,2.5,-.1,2.7,0,2.9,-.2,3.1,-.1,3.3,-.3,3.5,-.2,3.7,-.35,3.9,-.25,4.1,-.4,4.3,-.3,4.5,-.4],
[0,0,.15,-.2,.3,-.1,.45,-.4,.6,-.3,.75,-.6,.9,-.5,1.05,-.8,1.2,-.7,1.35,-.9,1.5,-.8,1.65,-1,1.8,-.9,1.95,-1.1,2.1,-1,2.3,-1.2,2.5,-1.1],
[0,0,.15,.1,.3,0,.45,.2,.6,.1,.75,.3,.9,.2,1.05,.4,1.2,.3,1.35,.5,1.5,.4,1.65,.6,1.8,.5,1.95,.7,2.1,.6,2.3,.8,2.5,.7,2.7,.9,2.9,.8,3.1,.7,3.3,.8,3.5,.6,3.7,.7,3.9,.5,4.1,.6],
[0,0,.15,-.1,.3,.1,.45,0,.6,-.2,.75,0,.9,.2,1.05,.1,1.2,.3,1.35,.2,1.5,0,1.65,.1,1.8,-.1,1.95,0,2.1,-.2,2.3,-.1,2.5,-.3,2.7,-.2,2.9,-.4,3.1,-.3,3.3,-.5,3.5,-.4,3.7,-.6,3.9,-.5],
[0,0,.15,.15,.3,.3,.45,.5,.6,.4,.75,.6,.9,.8,1.05,.7,1.2,.9,1.35,.8,1.5,1,1.65,.9,1.8,.8],
[0,0,.15,-.15,.3,-.3,.45,-.5,.6,-.7,.75,-.6,.9,-.8,1.05,-.7,1.2,-.5,1.35,-.6,1.5,-.4,1.65,-.5,1.8,-.3,1.95,-.4,2.1,-.2,2.3,-.3,2.5,-.1,2.7,-.2,2.9,0,3.1,-.1,3.3,.1,3.5,0,3.7,.2,3.9,.1,4.1,.15]
];
const sonRcp85 = [
[0,0,.1,.3,.2,.6,.3,.85,.4,.9,.5,.8,.7,.7,.9,.5,1.1,.6,1.3,.4,1.5,.5,1.7,.3,1.9,.4,2.1,.2,2.3,.3,2.5,.1,2.7,.2,2.9,0,3.1,.1,3.3,-.1,3.5,-.05],
[0,0,.2,-.2,.4,-.5,.6,-.4,.8,-.6,1,-.5,1.2,-.7,1.4,-.6,1.6,-.8,1.8,-.7,2,-.9,2.2,-.7,2.4,-.8,2.6,-.6,2.8,-.9,3,-.8,3.2,-1,3.4,-.9,3.5,-1],
[0,0,.2,.2,.4,.4,.6,.3,.8,.5,1,.4,1.2,.6,1.4,.5,1.6,.7,1.8,.6,2,.8,2.2,.6,2.4,.5,2.6,.7,2.8,.5,3,.6,3.2,.4,3.4,.45,3.5,.4],
[0,0,.2,-.1,.4,.1,.6,-.2,.8,0,1,-.3,1.2,-.1,1.4,-.4,1.6,-.2,1.8,-.5,2,-.3,2.2,-.5,2.4,-.3,2.6,-.6,2.8,-.4,3,-.6,3.2,-.5,3.4,-.7,3.5,-.6],
[0,0,.2,.3,.4,.5,.6,.4,.8,.2,1,.4,1.2,.1,1.4,.3,1.6,0,1.8,.2,2,-.1,2.2,.1,2.4,-.2,2.6,0,2.8,-.3,3,-.1,3.2,-.3,3.4,-.2,3.5,-.3],
[0,0,.2,-.3,.4,-.2,.6,-.5,.7,-.7,.9,-.5,1.1,-.6,1.3,-.4,1.5,-.7,1.7,-.5,1.9,-.8,2.1,-.6,2.3,-.9,2.5,-.7,2.7,-.8,2.9,-.6,3.1,-.8,3.3,-.7,3.5,-.8],
[0,0,.2,.1,.4,.3,.6,.6,.8,.5,1,.7,1.2,.5,1.4,.4,1.6,.6,1.8,.3,2,.5,2.2,.3,2.4,.6,2.6,.4,2.8,.7,3,.5,3.2,.3,3.4,.2,3.5,.25],
[0,0,.2,0,.4,-.2,.6,0,.8,-.2,1,0,1.2,-.2,1.4,.1,1.6,-.1,1.8,.1,2,-.1,2.2,-.3,2.4,-.1,2.6,-.3,2.8,-.2,3,-.4,3.2,-.2,3.4,-.4,3.5,-.35],
[0,0,.2,.2,.4,0,.6,.3,.8,.1,1,.2,1.2,0,1.4,.2,1.6,-.1,1.8,.1,2,.3,2.2,.1,2.4,.3,2.6,.1,2.8,.2,3,0,3.2,.15,3.4,-.05,3.5,0],
[0,0,.2,-.2,.4,-.4,.6,-.2,.8,-.3,1,-.1,1.2,-.3,1.4,-.1,1.6,-.3,1.8,-.2,2,-.4,2.2,-.2,2.4,-.5,2.6,-.3,2.8,-.5,3,-.3,3.2,-.6,3.4,-.4,3.5,-.5],
[0,0,.2,.1,.4,.2,.6,0,.8,.3,1,.1,1.2,.4,1.4,.2,1.6,.5,1.8,.3,2,.2,2.2,.4,2.4,.2,2.6,.3,2.8,.1,3,.3,3.2,.1,3.4,.2,3.5,.1],
[0,0,.2,-.1,.4,-.3,.6,-.5,.8,-.7,1,-.6,1.2,-.8,1.4,-.6,1.6,-.5,1.8,-.7,2,-.5,2.2,-.7,2.4,-.6,2.6,-.8,2.8,-.85,3,-.9,3.2,-.8,3.4,-.85,3.5,-.9],
[0,0,.2,.2,.4,.4,.6,.2,.8,.4,1,.2,1.2,0,1.4,.2,1.6,-.1,1.8,.1,2,-.1,2.2,.1,2.4,0,2.6,.2,2.8,0,3,.1,3.2,-.1,3.4,0,3.5,-.1],
[0,0,.2,-.1,.4,.1,.6,.2,.8,0,1,-.2,1.2,-.4,1.4,-.3,1.6,-.5,1.8,-.3,2,-.6,2.2,-.4,2.4,-.3,2.6,-.5,2.8,-.3,3,-.5,3.2,-.3,3.4,-.4,3.5,-.45],
[0,0,.2,.3,.4,.6,.6,.5,.8,.7,1,.4,1.2,.6,1.4,.3,1.6,.5,1.8,.2,2,.4,2.2,.2,2.4,.4,2.6,.2,2.8,.3,3,.1,3.2,.3,3.4,.1,3.5,.15]
];
const sonRcp45 = [
[0,0,.1,.2,.2,.3,.3,.4,.4,.55,.5,.7,.6,.75,.7,.65,.8,.55,.9,.45,1,.4,1.1,.3,1.2,.2,1.3,.1,1.4,0,1.5,-.1,1.6,-.2,1.7,-.3,1.8,-.4,1.9,-.5,1.95,-.55],
[0,0,.1,-.1,.2,-.2,.3,-.1,.4,-.3,.5,-.2,.6,-.4,.7,-.3,.8,-.5,.9,-.4,1,-.6,1.1,-.5,1.2,-.7,1.3,-.65,1.4,-.85,1.5,-.95,1.6,-.85,1.7,-.9,1.8,-.85],
[0,0,.1,.1,.2,0,.3,.2,.4,.1,.5,.3,.6,.2,.7,.1,.8,.2,.9,0,1,.1,1.1,.2,1.2,.3,1.3,.4,1.4,.5,1.5,.55,1.6,.45,1.7,.35,1.8,.2,1.9,0,1.95,-.1],
[0,0,.1,-.2,.2,-.1,.3,.1,.4,0,.5,-.2,.6,-.1,.7,-.3,.8,-.1,.9,-.2,1,0,1.1,-.2,1.2,-.1,1.3,-.3,1.4,-.2,1.5,-.4,1.6,-.3,1.7,-.5,1.8,-.4,1.9,-.2,1.95,-.1],
[0,0,.1,.1,.2,.2,.3,.1,.4,.3,.5,.2,.6,.4,.7,.2,.8,.1,.9,-.1,1,0,1.1,-.2,1.2,-.1,1.3,-.3,1.4,-.5,1.5,-.4,1.6,-.6,1.7,-.5,1.8,-.3,1.9,-.4],
[0,0,.1,-.1,.2,.1,.3,-.1,.4,.05,.5,-.15,.6,0,.7,-.2,.8,-.05,.9,.1,1,-.05,1.1,.1,1.2,-.1,1.3,0,1.4,-.2,1.5,-.1,1.6,-.3,1.7,-.2,1.8,-.1,1.9,0,1.95,.05]
];

const panels = [
  {all: djfAll, r85: djfRcp85, r45: djfRcp45},
  {all: mamAll, r85: mamRcp85, r45: mamRcp45},
  {all: jjaAll, r85: jjaRcp85, r45: jjaRcp45},
  {all: sonAll, r85: sonRcp85, r45: sonRcp45}
];
const yRanges = [[-2.21, 2.71], [-1.09, 1.09], [-1.59, 1.07], [-1.6, 1.58]];
const yTickVals = [[-2,-1,0,1,2], [-1,-0.5,0,0.5,1], [-1.5,-1,-0.5,0,0.5,1], [-1.5,-1,-0.5,0,0.5,1,1.5]];
const yTickText = [["−2","−1","0","1","2"], ["−1.0","−0.5","0.0","0.5","1.0"], ["−1.5","","−0.5","0.0","0.5","1.0"], ["−1.5","","−0.5","","0.5","","1.5"]];

const colAll = "rgba(155,155,155,0.5)";
const col85 = "rgba(255,0,0,0.72)";
const col45 = "rgba(20,20,255,0.75)";

const W = 780, H = 522;
// plot boxes in px: [left, right, top, bottom]
const boxes = [[65.3, 372, 46, 200], [451.3, 758, 46, 200], [65.3, 372, 319.3, 471.7], [451.3, 758, 319.3, 471.7]];

const traces = [];
function addGroup(list, color, k) {
  const sfx = k === 0 ? "" : String(k + 1);
  list.forEach(function (pts) {
    const x = [], y = [];
    for (let i = 0; i < pts.length; i += 2) { x.push(pts[i]); y.push(pts[i + 1]); }
    traces.push({type: "scatter", mode: "lines", x: x, y: y, xaxis: "x" + sfx, yaxis: "y" + sfx,
      line: {color: color, width: 1.2}, hoverinfo: "skip", showlegend: false});
  });
}
panels.forEach(function (p, k) { addGroup(p.all, colAll, k); });
panels.forEach(function (p, k) { addGroup(p.r85, col85, k); });
panels.forEach(function (p, k) { addGroup(p.r45, col45, k); });

const font = "Liberation Sans, Arial, Helvetica, sans-serif";
const layout = {
  width: W, height: H, margin: {l: 0, r: 0, t: 0, b: 0},
  paper_bgcolor: "#fff", plot_bgcolor: "#fff",
  font: {family: font, color: "#333"},
  showlegend: false, shapes: [], annotations: []
};
boxes.forEach(function (b, k) {
  const sfx = k === 0 ? "" : String(k + 1);
  layout["xaxis" + sfx] = {
    domain: [b[0] / W, b[1] / W], range: [-0.2, 5.2], anchor: "y" + sfx,
    tickvals: xTicks, ticks: "outside", ticklen: 5, tickcolor: "#444", tickwidth: 1,
    showline: true, mirror: true, linecolor: "#444", linewidth: 1,
    showgrid: false, zeroline: false, tickfont: {size: 10, color: "#444"},
    ticklabelstandoff: 9, fixedrange: true
  };
  layout["yaxis" + sfx] = {
    domain: [1 - b[3] / H, 1 - b[2] / H], range: yRanges[k], anchor: "x" + sfx,
    tickvals: yTickVals[k], ticktext: yTickText[k], tickangle: -90,
    ticks: "outside", ticklen: 5, tickcolor: "#444", tickwidth: 1,
    showline: true, mirror: true, linecolor: "#444", linewidth: 1,
    showgrid: false, zeroline: false, tickfont: {size: 10, color: "#444"},
    ticklabelstandoff: 4, fixedrange: true
  };
  layout.shapes.push({type: "line", xref: "x" + sfx, yref: "y" + sfx, x0: -0.2, x1: 5.2, y0: 0, y1: 0,
    line: {color: "#222", width: 1}, layer: "above"});
  const cx = (b[0] + b[1]) / 2;
  const titleY = k < 2 ? 20 : 293;
  const xlabY = k < 2 ? 244 : 517;
  layout.annotations.push({text: "<b>EC−Earth members " + seasons[k] + "</b>", xref: "paper", yref: "paper",
    x: cx / W, y: 1 - titleY / H, xanchor: "center", yanchor: "middle", showarrow: false,
    font: {family: font, size: 12, color: "#222"}});
  layout.annotations.push({text: "Tglob(t) [K]", xref: "paper", yref: "paper",
    x: cx / W, y: 1 - xlabY / H, xanchor: "center", yanchor: "middle", showarrow: false,
    font: {family: font, size: 11, color: "#333"}});
  layout.annotations.push({text: "PSp(t) [hPa]", xref: "paper", yref: "paper", textangle: -90,
    x: (b[0] - 45) / W, y: 1 - ((b[2] + b[3]) / 2) / H, xanchor: "center", yanchor: "middle", showarrow: false,
    font: {family: font, size: 11, color: "#333"}});
});
// legend in the MAM panel (text only, as in the original; it runs past the right edge there too)
const legCols = ["#3030ff", "#ff3030", "#c8c8c8"];
legendLabels.forEach(function (t, i) {
  layout.annotations.push({text: t, xref: "paper", yref: "paper", x: 711.5 / W, y: 1 - (59 + 13 * i) / H,
    xanchor: "left", yanchor: "middle", showarrow: false, font: {family: font, size: 11, color: legCols[i]}});
});

Plotly.newPlot("chart", traces, layout, {staticPlot: true, displayModeBar: false});
</script>
</body>
</html>
